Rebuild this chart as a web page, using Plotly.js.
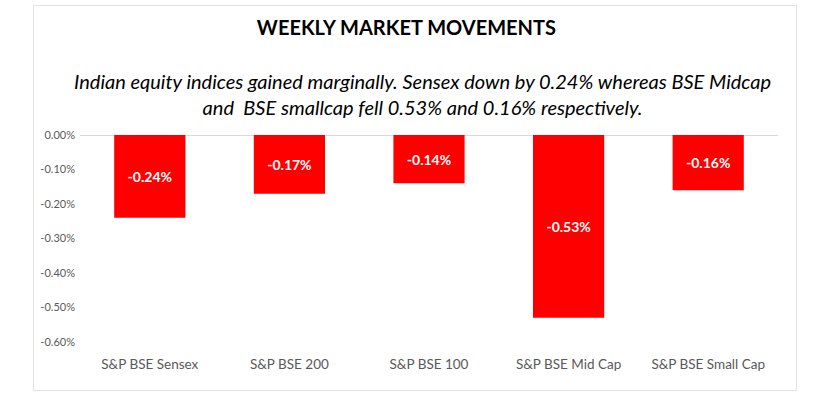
<!DOCTYPE html>
<html>
<head>
<meta charset="utf-8">
<script src="https://cdn.plot.ly/plotly-3.0.1.min.js"></script>
<style>
html,body{margin:0;padding:0;background:#fff;}
#wrap{position:relative;width:826px;height:396px;}
#chart{width:826px;height:396px;}
#frame{position:absolute;left:33px;top:5px;width:762px;height:384px;border:1px solid #e3e3e3;pointer-events:none;}
</style>
</head>
<body>
<div id="wrap"><div id="chart"></div><div id="frame"></div></div>
<script>
const categories = ["S&P BSE Sensex", "S&P BSE 200", "S&P BSE 100", "S&P BSE Mid Cap", "S&P BSE Small Cap"];
const changes = [-0.0024, -0.0017, -0.0014, -0.0053, -0.0016];
const tickValues = [0, -0.001, -0.002, -0.003, -0.004, -0.005, -0.006];
const tickLabels = ["0.00%", "-0.10%", "-0.20%", "-0.30%", "-0.40%", "-0.50%", "-0.60%"];
const titleText = "WEEKLY MARKET MOVEMENTS";
const subtitleText = "Indian equity indices gained marginally. Sensex down by 0.24% whereas BSE Midcap<br>and  BSE smallcap fell 0.53% and 0.16% respectively.";

const labels = changes.map(v => (v * 100).toFixed(2) + "%");

const font = "Lato, 'Open Sans', sans-serif";

Plotly.newPlot("chart", [{
  type: "bar",
  x: categories,
  y: changes,
  marker: {color: "#ff0000"},
  text: labels,
  textposition: "inside",
  insidetextanchor: "middle",
  textfont: {color: "#ffffff", size: 14, family: font, weight: "bold"},
  hoverinfo: "x+text"
}], {
  width: 826, height: 396,
  margin: {l: 80, r: 48, t: 135, b: 54},
  paper_bgcolor: "#ffffff",
  plot_bgcolor: "#ffffff",
  bargap: 0.49,
  showlegend: false,
  title: {
    text: "<b>" + titleText + "</b>",
    font: {family: font, size: 20, color: "#000000"},
    x: 0.492, xanchor: "center",
    y: 0.93, yanchor: "middle"
  },
  annotations: [{
    text: "<i>" + subtitleText + "</i>",
    xref: "paper", yref: "paper",
    x: 0.49, y: 1.2, xanchor: "center", yanchor: "middle",
    showarrow: false,
    font: {family: font, size: 20, color: "#000000"},
    align: "center"
  }],
  xaxis: {
    type: "category",
    showgrid: false,
    showline: false,
    zeroline: false,
    ticks: "",
    ticklabelstandoff: 12,
    tickfont: {family: font, size: 13.5, color: "#595959"},
    fixedrange: true
  },
  yaxis: {
    range: [-0.006, 0],
    tickvals: tickValues,
    ticktext: tickLabels,
    showgrid: false,
    zeroline: true,
    zerolinecolor: "#d9d9d9",
    zerolinewidth: 1,
    showline: false,
    ticks: "",
    ticklabelstandoff: 4,
    tickfont: {family: font, size: 11, color: "#595959"},
    fixedrange: true
  }
}, {displayModeBar: false, staticPlot: true});
</script>
</body>
</html>
